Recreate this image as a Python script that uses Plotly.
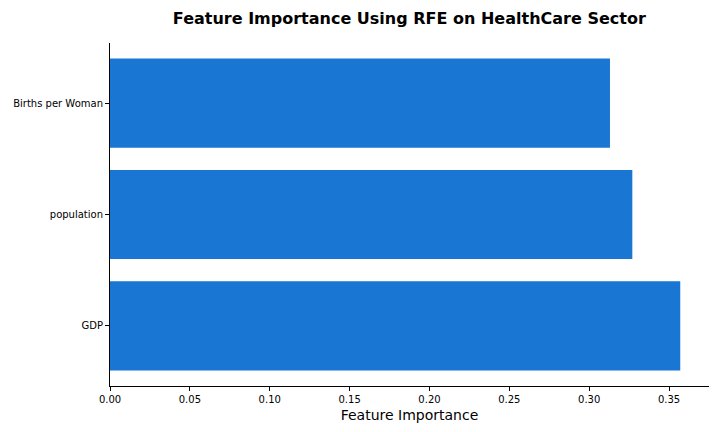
import plotly.graph_objects as go

features = ["GDP", "population", "Births per Woman"]
importance = [0.357, 0.327, 0.313]
x_ticks = [0.00, 0.05, 0.10, 0.15, 0.20, 0.25, 0.30, 0.35]

fig = go.Figure(
    go.Bar(
        x=importance,
        y=features,
        orientation="h",
        marker=dict(color="#1976D2", line=dict(width=0)),
        width=0.8,
    )
)

fig.update_layout(
    width=720,
    height=432,
    margin=dict(l=110, r=11, t=43, b=46, autoexpand=False),
    plot_bgcolor="white",
    paper_bgcolor="white",
    font=dict(family="DejaVu Sans", color="black", size=10),
    title=dict(
        text="<b>Feature Importance Using RFE on HealthCare Sector</b>",
        x=0.5685,
        xanchor="center",
        xref="container",
        y=0.958,
        yref="container",
        yanchor="middle",
        font=dict(size=16, color="black"),
        automargin=False,
    ),
    showlegend=False,
)

fig.update_xaxes(
    range=[0, 0.375],
    tickvals=x_ticks,
    tickformat=".2f",
    showgrid=False,
    zeroline=False,
    showline=True,
    linecolor="black",
    linewidth=1,
    ticks="outside",
    ticklen=4,
    tickcolor="black",
    automargin=False,
    title=dict(text="Feature Importance", font=dict(size=14), standoff=6),
)
fig.update_yaxes(
    range=[-0.54, 2.54],
    showgrid=False,
    zeroline=False,
    showline=True,
    linecolor="black",
    linewidth=1,
    ticks="outside",
    ticklen=4,
    tickcolor="black",
    automargin=False,
)

# the page body has a default 8px margin; drop it so the figure sits at 0,0
fig.write_html(
    "out.html",
    config={"displayModeBar": False},
    post_script="document.body.style.margin='0';",
)
